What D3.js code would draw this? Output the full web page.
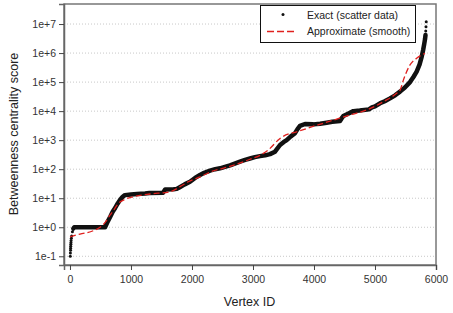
<!DOCTYPE html>
<html>
<head>
<meta charset="utf-8">
<script src="https://cdn.jsdelivr.net/npm/d3@7"></script>
<style>
  body { margin: 0; background: #fff; }
  svg { display: block; font-family: "Liberation Sans", Arial, sans-serif; }
</style>
</head>
<body>
<div id="chart"></div>
<script>
// exact scatter (vertex id, betweenness score)
const exactIds = [5, 7, 9, 10, 12, 14, 16, 18, 22, 28, 40, 55, 70, 200, 400, 575,
  620, 660, 700, 740, 780, 820, 860, 900, 1000, 1100, 1230, 1300, 1525, 1560, 1700,
  1750, 1800, 1880, 1967, 2050, 2131, 2200, 2295, 2380, 2459, 2540, 2623, 2700, 2787,
  2870, 2951, 3030, 3115, 3200, 3279, 3361, 3443, 3500, 3552, 3620, 3689, 3730, 3770,
  3852, 3989, 4100, 4208, 4300, 4426, 4450, 4481, 4550, 4645, 4750, 4900, 4950, 5000,
  5082, 5160, 5246, 5330, 5410, 5490, 5574, 5630, 5683, 5730, 5765, 5790, 5808, 5820,
  5828, 5832, 5836, 5840];
const exactScores = [0.1, 0.13, 0.16, 0.19, 0.22, 0.26, 0.3, 0.35, 0.42, 0.5, 0.7, 0.9, 1.0, 1.0, 1.0, 1.0,
  1.6, 2.3, 3.4, 4.6, 6.5, 8.7, 11, 12.8, 13.5, 14, 14.5, 15, 15.5, 20, 20.5,
  21, 24, 30, 37, 50, 63, 75, 89, 100, 107, 120, 135, 155, 182,
  210, 234, 260, 282, 300, 330, 400, 680, 850, 1000, 1350, 1740, 2400, 3100,
  3600, 3500, 3700, 4000, 4300, 4600, 5500, 6800, 8000, 10000, 10500, 11500, 13500, 14500,
  18600, 22000, 27500, 35000, 47000, 65000, 100000, 150000, 230000, 400000, 740000, 1300000, 2100000, 3000000,
  4200000, 5800000, 8000000, 12000000];

// smooth approximation
const approxIds = [0, 164, 382, 492, 580, 655, 720, 792, 900, 1038, 1311, 1639, 1803, 1940,
  2131, 2300, 2623, 2951, 3115, 3251, 3443, 3770, 3900, 4317, 4590, 4863, 5137, 5355,
  5410, 5465, 5574, 5683, 5820];
const approxScores = [0.47, 0.58, 0.76, 1.0, 1.5, 2.6, 4.0, 6.6, 9.1, 11.2, 14, 16.6, 25, 37,
  54, 80, 125, 220, 300, 460, 1150, 2100, 2600, 4900, 7400, 11000, 21000, 41000,
  52000, 117000, 390000, 660000, 980000];

const xTicks = [0, 1000, 2000, 3000, 4000, 5000, 6000];
const yTicks = [1e-1, 1e0, 1e1, 1e2, 1e3, 1e4, 1e5, 1e6, 1e7];
const yTickLabels = ["1e-1", "1e+0", "1e+1", "1e+2", "1e+3", "1e+4", "1e+5", "1e+6", "1e+7"];
const legendLabels = ["Exact (scatter data)", "Approximate (smooth)"];

const width = 453, height = 313;
const plotLeft = 64, plotRight = 436, plotTop = 4, plotBottom = 265;

const svg = d3.select("#chart").append("svg")
  .attr("width", width)
  .attr("height", height);

const x = d3.scaleLinear().domain([-98, 6000]).range([plotLeft, plotRight]);
const y = d3.scaleLog().domain([Math.pow(10, -1.3), Math.pow(10, 7.69)]).range([plotBottom, plotTop]);

// grid
svg.selectAll("line.grid")
  .data(yTicks)
  .enter()
  .append("line")
  .attr("class", "grid")
  .attr("x1", plotLeft)
  .attr("x2", plotRight)
  .attr("y1", d => y(d))
  .attr("y2", d => y(d))
  .attr("stroke", "#c8c8c8")
  .attr("stroke-width", 1)
  .attr("stroke-dasharray", "1,2");

// frame
svg.append("rect")
  .attr("x", plotLeft)
  .attr("y", plotTop)
  .attr("width", plotRight - plotLeft)
  .attr("height", plotBottom - plotTop)
  .attr("fill", "none")
  .attr("stroke", "#777")
  .attr("stroke-width", 1.5);

// axes
const yAxis = d3.axisLeft(y).tickValues(yTicks).tickFormat((d, i) => yTickLabels[i]).tickSize(5).tickPadding(3);
const gy = svg.append("g").attr("transform", `translate(${plotLeft},0)`).call(yAxis);
gy.select(".domain").attr("stroke", "#666").attr("stroke-width", 1.5);
gy.selectAll(".tick line").attr("stroke", "#444");
gy.selectAll("text").attr("font-size", "10.5px").attr("fill", "#333").attr("font-family", "Liberation Sans, Arial, sans-serif");

const xAxis = d3.axisBottom(x).tickValues(xTicks).tickFormat(d3.format("d")).tickSize(5).tickPadding(6);
const gx = svg.append("g").attr("transform", `translate(0,${plotBottom})`).call(xAxis);
gx.select(".domain").attr("stroke", "#666").attr("stroke-width", 1.5);
gx.selectAll(".tick line").attr("stroke", "#444");
gx.selectAll("text").attr("font-size", "10.5px").attr("fill", "#333").attr("font-family", "Liberation Sans, Arial, sans-serif");

// labels
svg.append("text")
  .attr("x", 249.5)
  .attr("y", 306)
  .attr("text-anchor", "middle")
  .attr("font-size", "12.5px")
  .attr("fill", "#222")
  .text("Vertex ID");

svg.append("text")
  .attr("transform", `translate(18,134) rotate(-90)`)
  .attr("text-anchor", "middle")
  .attr("font-size", "12.5px")
  .attr("fill", "#222")
  .text("Betweenness centrality score");

// exact series
const exact = exactIds.map((id, i) => ({ id: id, s: exactScores[i] }));
const band = exact.filter(d => d.s >= 0.9 && d.id < 5830);

svg.append("path")
  .datum(band)
  .attr("fill", "none")
  .attr("stroke", "#111")
  .attr("stroke-width", 4.5)
  .attr("stroke-linejoin", "round")
  .attr("stroke-linecap", "round")
  .attr("d", d3.line().x(d => x(d.id)).y(d => y(d.s)));

svg.selectAll("circle.exact")
  .data(exact)
  .enter()
  .append("circle")
  .attr("class", "exact")
  .attr("cx", d => x(d.id))
  .attr("cy", d => y(d.s))
  .attr("r", 1.5)
  .attr("fill", "#111");

// approximate series
const approx = approxIds.map((id, i) => ({ id: id, s: approxScores[i] }));
svg.append("path")
  .datum(approx)
  .attr("fill", "none")
  .attr("stroke", "#e0201e")
  .attr("stroke-width", 1.3)
  .attr("stroke-dasharray", "6,3")
  .attr("d", d3.line().curve(d3.curveMonotoneX).x(d => x(d.id)).y(d => y(d.s)));

// legend
const lg = svg.append("g");
lg.append("rect")
  .attr("x", 260.5)
  .attr("y", 5.5)
  .attr("width", 155)
  .attr("height", 37)
  .attr("fill", "#fff")
  .attr("stroke", "#111")
  .attr("stroke-width", 1);
lg.append("circle")
  .attr("cx", 283)
  .attr("cy", 14.5)
  .attr("r", 1.5)
  .attr("fill", "#111");
lg.append("line")
  .attr("x1", 267)
  .attr("x2", 296)
  .attr("y1", 31.5)
  .attr("y2", 31.5)
  .attr("stroke", "#e0201e")
  .attr("stroke-width", 1.3)
  .attr("stroke-dasharray", "7,3");
lg.selectAll("text")
  .data(legendLabels)
  .enter()
  .append("text")
  .attr("x", 307)
  .attr("y", (d, i) => 18.5 + i * 16)
  .attr("font-size", "10.5px")
  .attr("fill", "#222")
  .text(d => d);
</script>
</body>
</html>
